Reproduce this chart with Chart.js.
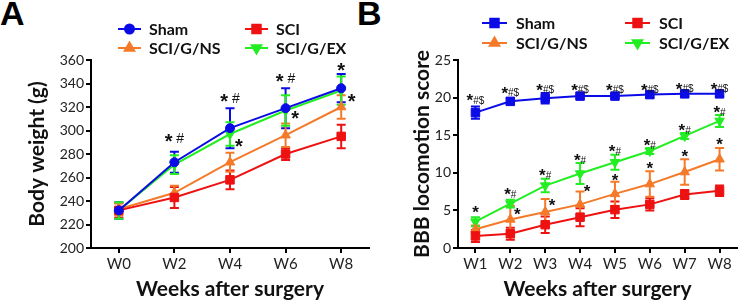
<!DOCTYPE html>
<html>
<head>
<meta charset="utf-8">
<script src="https://cdn.jsdelivr.net/npm/chart.js@4.4.1/dist/chart.umd.min.js"></script>
<style>
  body { margin: 0; background: #fff; width: 744px; height: 302px; position: relative; overflow: hidden; }
  canvas { position: absolute; top: 0; }
  #chartA { left: 0; }
  #chartB { left: 372px; }
  .tag { position: absolute; top: -6px; font: bold 34px "Liberation Sans", Arial, sans-serif; color: #000; }
</style>
</head>
<body>
<div class="tag" style="left:0px">A</div>
<div class="tag" style="left:357px">B</div>
<canvas id="chartA" width="376" height="302"></canvas>
<canvas id="chartB" width="372" height="302"></canvas>
<script>
// ---- panel A: body weight ----
const weeksA = ["W0", "W2", "W4", "W6", "W8"];
const shamA = [232, 273, 302, 319, 336];
const shamAErr = [7, 9, 17, 17, 12];
const sciA = [232, 243, 258, 280, 295];
const sciAErr = [6, 9, 8, 5, 10];
const nsA = [233, 247, 273, 296, 320];
const nsAErr = [5, 6, 8, 10, 10];
const exA = [232, 271, 297, 317, 334];
const exAErr = [7, 8, 10, 13, 12];
const ticksA = [200, 220, 240, 260, 280, 300, 320, 340, 360];
// [category position, value, text]
const marksA = [
  [1, 294, "* #"], [2, 328, "* #"], [2.16, 289, "*"],
  [3, 345, "* #"], [3.17, 313, "*"], [4, 354, "*"], [4.19, 328, "*"]
];

// ---- panel B: BBB score ----
const weeksB = ["W1", "W2", "W3", "W4", "W5", "W6", "W7", "W8"];
const shamB = [18.0, 19.5, 19.9, 20.2, 20.2, 20.4, 20.5, 20.5];
const shamBErr = [0.8, 0.4, 0.7, 0.3, 0.3, 0.4, 0.4, 0.4];
const sciB = [1.6, 1.9, 3.1, 4.1, 5.1, 5.8, 7.1, 7.6];
const sciBErr = [0.8, 0.8, 1.1, 1.2, 1.1, 0.8, 0.6, 0.7];
const nsB = [2.5, 3.8, 4.8, 5.8, 7.2, 8.5, 10.1, 11.8];
const nsBErr = [0.5, 1.8, 1.7, 1.7, 1.6, 1.7, 1.7, 1.5];
const exB = [3.5, 5.9, 8.3, 9.9, 11.4, 12.9, 14.9, 16.9];
const exBErr = [0.6, 0.5, 0.9, 1.4, 1.0, 0.4, 0.4, 0.8];
const ticksB = [0, 5, 10, 15, 20, 25];
const marksB = [
  [0, 20.0, "*#$"], [1, 21.0, "*#$"], [2, 21.4, "*#$"], [3, 21.4, "*#$"],
  [4, 21.4, "*#$"], [5, 21.4, "*#$"], [6, 21.5, "*#$"], [7, 21.5, "*#$"],
  [0, 5.1, "*"], [1, 7.5, "*#"], [2, 10.0, "*#"], [3, 12.0, "*#"],
  [4, 13.2, "*#"], [5, 14.0, "*#"], [6, 16.0, "*#"], [7, 18.4, "*#"],
  [1.2, 4.8, "*"], [2.2, 6.0, "*"], [3.2, 7.9, "*"],
  [4, 9.4, "*"], [5, 11.0, "*"], [6, 12.6, "*"], [7, 14.1, "*"]
];

const BLUE = "#0b0be6", RED = "#ee1111", ORANGE = "#f47a2a", GREEN = "#22ee22";
const FONT = "Lato";
const MARKFONT = "'Liberation Sans', Arial, sans-serif";

// error bars from the errors arrays
const errorBars = {
  id: "errorBars",
  beforeDatasetsDraw(chart) {
    const ctx = chart.ctx, y = chart.scales.y;
    chart.data.datasets.forEach((ds, i) => {
      const meta = chart.getDatasetMeta(i);
      ctx.save();
      ctx.strokeStyle = ds.borderColor;
      ctx.lineWidth = 2;
      meta.data.forEach((pt, j) => {
        const e = ds.errors[j];
        const top = y.getPixelForValue(ds.data[j] + e);
        const bot = y.getPixelForValue(ds.data[j] - e);
        ctx.beginPath();
        ctx.moveTo(pt.x, top); ctx.lineTo(pt.x, bot);
        ctx.moveTo(pt.x - 4.5, top); ctx.lineTo(pt.x + 4.5, top);
        ctx.moveTo(pt.x - 4.5, bot); ctx.lineTo(pt.x + 4.5, bot);
        ctx.stroke();
      });
      ctx.restore();
    });
  }
};

// significance marks: "*" at one size, the rest smaller
const sigMarks = {
  id: "sigMarks",
  afterDatasetsDraw(chart, args, o) {
    const { ctx, scales: { x, y } } = chart;
    ctx.save();
    ctx.fillStyle = "#111";
    ctx.textBaseline = "alphabetic";
    const starFont = "bold " + o.star + "px " + MARKFONT;
    const restFont = o.restSize + "px " + MARKFONT;
    o.items.forEach(([xi, yv, txt]) => {
      const px = x.getPixelForValue(xi), py = y.getPixelForValue(yv);
      const head = txt[0], rest = txt.slice(1);
      ctx.font = starFont;
      const m1 = ctx.measureText(head);
      ctx.font = restFont;
      const m2 = ctx.measureText(rest);
      const sx = px - (m1.width + m2.width) / 2;
      ctx.font = starFont;
      ctx.fillText(head, sx, py + (m1.actualBoundingBoxAscent - m1.actualBoundingBoxDescent) / 2);
      if (rest) {
        ctx.font = restFont;
        ctx.fillText(rest, sx + m1.width,
          py + o.restDrop + (m2.actualBoundingBoxAscent - m2.actualBoundingBoxDescent) / 2);
      }
    });
    ctx.restore();
  }
};

// two-column legend with line + marker
const gridLegend = {
  id: "gridLegend",
  afterDraw(chart, args, o) {
    const ctx = chart.ctx;
    chart.data.datasets.forEach((ds, i) => {
      const x = o.cols[i % 2], yy = o.rows[Math.floor(i / 2)];
      ctx.save();
      ctx.strokeStyle = ds.borderColor;
      ctx.fillStyle = ds.borderColor;
      ctx.lineWidth = 2;
      ctx.beginPath();
      ctx.moveTo(x, yy); ctx.lineTo(x + o.lineLen, yy);
      ctx.stroke();
      Chart.helpers.drawPoint(ctx, {
        pointStyle: ds.pointStyle, rotation: ds.pointRotation || 0,
        radius: ds.pointRadius, borderWidth: 1
      }, x + o.lineLen / 2, yy);
      ctx.fillStyle = "#111";
      ctx.font = "bold 16px " + FONT;
      ctx.textBaseline = "middle";
      ctx.fillText(ds.label, x + o.lineLen + o.gap, yy + 1);
      ctx.restore();
    });
  }
};

function series(label, data, errors, color, style, radius, rot) {
  return {
    label, data, errors,
    borderColor: color, backgroundColor: color,
    pointBackgroundColor: color, pointBorderColor: color,
    borderWidth: 2, pointStyle: style, pointRadius: radius,
    pointRotation: rot || 0, pointBorderWidth: 1, tension: 0
  };
}

function axisOpts(min, max, title, fit, tickSize, extra) {
  return {
    min, max,
    border: { color: "#000", width: 2 },
    grid: { drawOnChartArea: false, drawTicks: true, tickLength: 5, color: "#000", lineWidth: 2 },
    ticks: Object.assign({ color: "#222", font: { family: FONT, size: tickSize }, padding: 2 }, extra || {}),
    title: { display: true, text: title, color: "#111", font: { family: FONT, size: 21, weight: "bold" }, padding: { top: 0, bottom: 0 } },
    afterFit: fit
  };
}

function makeChart(id, labels, sets, yTicks, yTitle, yWidth, padLeft, marks, legend, starSize, restSize, restDrop) {
  const yMin = yTicks[0], yMax = yTicks[yTicks.length - 1];
  const yAxis = axisOpts(yMin, yMax, yTitle, s => { s.width = yWidth; }, 14,
    { stepSize: yTicks[1] - yTicks[0] });
  const xAxis = axisOpts(undefined, undefined, "Weeks after surgery", s => { s.height = 54; }, 15);
  xAxis.offset = true;
  new Chart(document.getElementById(id), {
    type: "line",
    data: { labels, datasets: sets },
    options: {
      responsive: false,
      animation: false,
      layout: { padding: { left: padLeft, top: 60, right: 1, bottom: 0 } },
      scales: { x: xAxis, y: yAxis },
      plugins: {
        legend: { display: false },
        tooltip: { enabled: false },
        sigMarks: { items: marks, star: starSize, restSize, restDrop },
        gridLegend: legend
      }
    },
    plugins: [errorBars, sigMarks, gridLegend]
  });
}

makeChart("chartA", weeksA, [
  series("Sham", shamA, shamAErr, BLUE, "circle", 4.5),
  series("SCI", sciA, sciAErr, RED, "rect", 6),
  series("SCI/G/NS", nsA, nsAErr, ORANGE, "triangle", 5.5),
  series("SCI/G/EX", exA, exAErr, GREEN, "triangle", 5.5, 180)
], ticksA, "Body weight (g)", 66, 25, marksA,
  { cols: [118, 245], rows: [29, 48], lineLen: 23, gap: 8 }, 20, 14, 0);

makeChart("chartB", weeksB, [
  series("Sham", shamB, shamBErr, BLUE, "rect", 6),
  series("SCI", sciB, sciBErr, RED, "rect", 6),
  series("SCI/G/NS", nsB, nsBErr, ORANGE, "triangle", 5.5),
  series("SCI/G/EX", exB, exBErr, GREEN, "triangle", 5.5, 180)
], ticksB, "BBB locomotion score", 48, 38, marksB,
  { cols: [110, 253], rows: [23, 43], lineLen: 25, gap: 9 }, 17, 10, 2.5);
</script>
</body>
</html>
